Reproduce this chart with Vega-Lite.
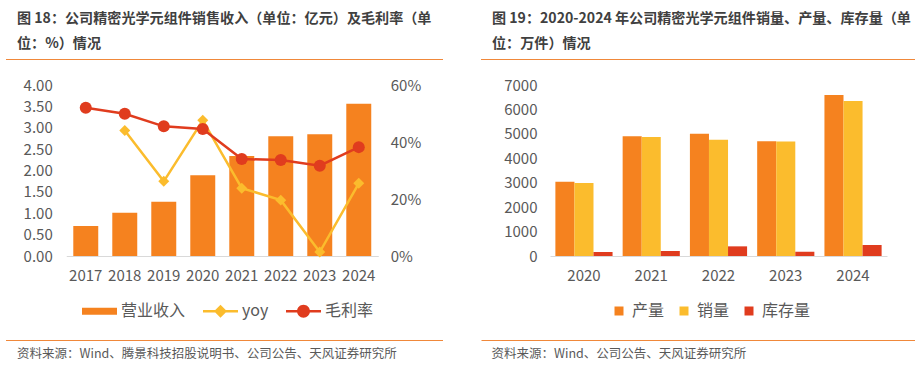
{
  "$schema": "https://vega.github.io/schema/vega-lite/v6.json",
  "padding": {"left": 6, "top": 11, "right": -34, "bottom": 0},
  "background": "white",
  "config": {
    "view": {"stroke": null},
    "font": "Noto Sans CJK SC",
    "axis": {"labelFont": "Noto Sans CJK SC", "labelColor": "#595959", "labelFontSize": 15, "grid": false, "ticks": false, "title": null},
    "legend": {"labelFont": "Noto Sans CJK SC", "labelColor": "#595959", "labelFontSize": 16, "title": null}
  },
  "datasets": {
    "left": [
      {"year": "2017", "rev": 0.70, "yoy": null, "margin": 0.520},
      {"year": "2018", "rev": 1.01, "yoy": 0.440, "margin": 0.499},
      {"year": "2019", "rev": 1.27, "yoy": 0.262, "margin": 0.455},
      {"year": "2020", "rev": 1.89, "yoy": 0.476, "margin": 0.446},
      {"year": "2021", "rev": 2.34, "yoy": 0.238, "margin": 0.340},
      {"year": "2022", "rev": 2.80, "yoy": 0.196, "margin": 0.337},
      {"year": "2023", "rev": 2.85, "yoy": 0.014, "margin": 0.317},
      {"year": "2024", "rev": 3.56, "yoy": 0.255, "margin": 0.382}
    ],
    "legendL": [
      {"s": "营业收入"},
      {"s": "yoy"},
      {"s": "毛利率"}
    ],
    "right": [
      {"year": "2020", "item": "产量", "value": 3040},
      {"year": "2020", "item": "销量", "value": 2990},
      {"year": "2020", "item": "库存量", "value": 165},
      {"year": "2021", "item": "产量", "value": 4900},
      {"year": "2021", "item": "销量", "value": 4870},
      {"year": "2021", "item": "库存量", "value": 205},
      {"year": "2022", "item": "产量", "value": 5005},
      {"year": "2022", "item": "销量", "value": 4760},
      {"year": "2022", "item": "库存量", "value": 395},
      {"year": "2023", "item": "产量", "value": 4695},
      {"year": "2023", "item": "销量", "value": 4690},
      {"year": "2023", "item": "库存量", "value": 178},
      {"year": "2024", "item": "产量", "value": 6590},
      {"year": "2024", "item": "销量", "value": 6345},
      {"year": "2024", "item": "库存量", "value": 450}
    ]
  },
  "spacing": -38,
  "resolve": {"scale": {"color": "independent", "shape": "independent"}},
  "hconcat": [
    {
      "center": true,
      "spacing": 18,
      "vconcat": [
        {
          "width": 437, "height": 1,
          "data": {"values": [{}]},
          "mark": {"type": "rect", "color": "#F0883A"},
          "encoding": {},
          "title": {"text": ["图 18：公司精密光学元组件销售收入（单位：亿元）及毛利率（单", "位：%）情况"], "subtitle": "一一一一一一一一一一一一一一一一一一一一一一一一一一一一一一一一一一一一一一一一一一一一一一一一一一一一一一一一一一一一一一一一一一一一一一一一一一一一一一一一一一一一一一一一一一一一一一一一一一一一一一一一一一一一一一一一一一一一", "subtitleFontSize": 4, "subtitleColor": "transparent", "subtitlePadding": 0, "anchor": "start", "dx": 11, "fontSize": 14.1, "fontWeight": "bold", "color": "#404040", "lineHeight": 25, "offset": 4, "font": "Noto Sans CJK SC", "subtitleFont": "Noto Sans CJK SC"}
        },
        {
          "width": 312, "height": 171,
          "resolve": {"scale": {"y": "independent"}},
          "layer": [
            {
              "data": {"name": "left"},
              "mark": {"type": "bar", "color": "#F5821F"},
              "encoding": {
                "x": {"field": "year", "type": "ordinal", "scale": {"paddingInner": 0.36, "paddingOuter": 0.18}, "axis": {"labelAngle": 0, "domainColor": "#D9D9D9", "labelPadding": 12, "title": " ", "titleFontSize": 1, "titlePadding": 38}},
                "y": {"field": "rev", "type": "quantitative", "scale": {"domain": [0, 4]}, "axis": {"orient": "left", "values": [0, 0.5, 1, 1.5, 2, 2.5, 3, 3.5, 4], "format": ".2f", "domain": false, "labelPadding": 14}}
              }
            },
            {
              "data": {"name": "left"},
              "encoding": {
                "x": {"field": "year", "type": "ordinal"}
              },
              "layer": [
                {
                  "mark": {"type": "line", "color": "#FBBC2D", "strokeWidth": 2.5},
                  "encoding": {"y": {"field": "yoy", "type": "quantitative", "scale": {"domain": [0, 0.6]}, "axis": {"orient": "right", "values": [0, 0.1, 0.2, 0.3, 0.4, 0.5, 0.6], "format": ".0%", "domain": false, "labelPadding": 12}}}
                },
                {
                  "mark": {"type": "point", "shape": "diamond", "filled": true, "size": 120, "color": "#FBBC2D", "opacity": 1},
                  "encoding": {"y": {"field": "yoy", "type": "quantitative"}}
                },
                {
                  "mark": {"type": "line", "color": "#E03C1E", "strokeWidth": 2.5},
                  "encoding": {"y": {"field": "margin", "type": "quantitative"}}
                },
                {
                  "mark": {"type": "point", "shape": "circle", "filled": true, "size": 144, "color": "#E03C1E", "opacity": 1},
                  "encoding": {"y": {"field": "margin", "type": "quantitative"}}
                }
              ]
            },
            {
              "data": {"name": "legendL"},
              "mark": {"type": "point", "filled": true, "opacity": 0},
              "encoding": {
                "color": {"field": "s", "type": "nominal", "scale": {"domain": ["营业收入", "yoy", "毛利率"], "range": ["#F5821F", "#FBBC2D", "#E03C1E"]},
                  "legend": {"orient": "none", "legendX": 76, "legendY": 234.5, "direction": "horizontal", "symbolSize": 1225, "symbolOpacity": 1, "symbolStrokeWidth": 0, "labelOffset": 4, "columnPadding": 17}},
                "shape": {"field": "s", "type": "nominal", "scale": {"domain": ["营业收入", "yoy", "毛利率"], "range": [
                  "M-1,-0.2H1V0.2H-1Z",
                  "M-1,-0.07H-0.3V0.07H-1Z M0.3,-0.07H1V0.07H0.3Z M0,-0.37L0.37,0L0,0.37L-0.37,0Z",
                  "M-1,-0.07H-0.3V0.07H-1Z M0.3,-0.07H1V0.07H0.3Z M-0.37,0A0.37,0.37 0 1,1 0.37,0A0.37,0.37 0 1,1 -0.37,0Z"
                ]},
                  "legend": {"orient": "none", "legendX": 76, "legendY": 234.5, "direction": "horizontal", "symbolSize": 1225, "symbolOpacity": 1, "symbolStrokeWidth": 0, "labelOffset": 4, "columnPadding": 17}}
              }
            }
          ]
        },
        {
          "width": 437, "height": 1,
          "data": {"values": [{}]},
          "mark": {"type": "rect", "color": "#F0883A"},
          "encoding": {},
          "title": {"text": "资料来源：Wind、腾景科技招股说明书、公司公告、天风证券研究所", "subtitle": "一一一一一一一一一一一一一一一一一一一一一一一一一一一一一一一一一一一一一一一一一一一一一一一一一一一一一一一一一一一一一一一一一一一一一一一一一一一一一一一一一一一一一一一一一一一一一一一一一一一一一一一一一一一一一一一一一一一一", "subtitleFontSize": 4, "subtitleColor": "transparent", "subtitlePadding": 0, "subtitleFont": "Noto Sans CJK SC", "orient": "bottom", "anchor": "start", "dx": 11, "fontSize": 12.5, "fontWeight": "normal", "color": "#595959", "offset": 7, "font": "Noto Sans CJK SC"}
        }
      ]
    },
    {
      "center": true,
      "spacing": 18,
      "vconcat": [
        {
          "width": 438, "height": 1,
          "data": {"values": [{}]},
          "mark": {"type": "rect", "color": "#F0883A"},
          "encoding": {},
          "title": {"text": ["图 19：2020-2024 年公司精密光学元组件销量、产量、库存量（单", "位：万件）情况"], "subtitle": "一一一一一一一一一一一一一一一一一一一一一一一一一一一一一一一一一一一一一一一一一一一一一一一一一一一一一一一一一一一一一一一一一一一一一一一一一一一一一一一一一一一一一一一一一一一一一一一一一一一一一一一一一一一一一一一一一一一一", "subtitleFontSize": 4, "subtitleColor": "transparent", "subtitlePadding": 0, "subtitleFont": "Noto Sans CJK SC", "anchor": "start", "dx": 11, "fontSize": 14.1, "fontWeight": "bold", "color": "#404040", "lineHeight": 25, "offset": 4, "font": "Noto Sans CJK SC"}
        },
        {
          "width": 337, "height": 171,
          "data": {"name": "right"},
          "mark": {"type": "bar"},
          "encoding": {
            "x": {"field": "year", "type": "ordinal", "scale": {"paddingInner": 0.15, "paddingOuter": 0.08}, "axis": {"labelAngle": 0, "domainColor": "#D9D9D9", "labelPadding": 12, "title": " ", "titleFontSize": 1, "titlePadding": 38}},
            "xOffset": {"field": "item", "type": "nominal", "scale": {"domain": ["产量", "销量", "库存量"], "paddingInner": 0}},
            "y": {"field": "value", "type": "quantitative", "scale": {"domain": [0, 7000]}, "axis": {"values": [0, 1000, 2000, 3000, 4000, 5000, 6000, 7000], "format": "d", "domain": false, "labelPadding": 13}},
            "color": {"field": "item", "type": "nominal", "scale": {"domain": ["产量", "销量", "库存量"], "range": ["#F5821F", "#FBBC2D", "#E03C1E"]},
              "legend": {"orient": "none", "legendX": 130, "legendY": 244, "direction": "horizontal", "symbolType": "square", "symbolSize": 81, "symbolStrokeWidth": 0, "labelOffset": 5, "columnPadding": 11}}
          }
        },
        {
          "width": 438, "height": 1,
          "data": {"values": [{}]},
          "mark": {"type": "rect", "color": "#F0883A"},
          "encoding": {},
          "title": {"text": "资料来源：Wind、公司公告、天风证券研究所", "subtitle": "一一一一一一一一一一一一一一一一一一一一一一一一一一一一一一一一一一一一一一一一一一一一一一一一一一一一一一一一一一一一一一一一一一一一一一一一一一一一一一一一一一一一一一一一一一一一一一一一一一一一一一一一一一一一一一一一一一一一", "subtitleFontSize": 4, "subtitleColor": "transparent", "subtitlePadding": 0, "subtitleFont": "Noto Sans CJK SC", "orient": "bottom", "anchor": "start", "dx": 10, "fontSize": 12.5, "fontWeight": "normal", "color": "#595959", "offset": 7, "font": "Noto Sans CJK SC"}
        }
      ]
    }
  ]
}
